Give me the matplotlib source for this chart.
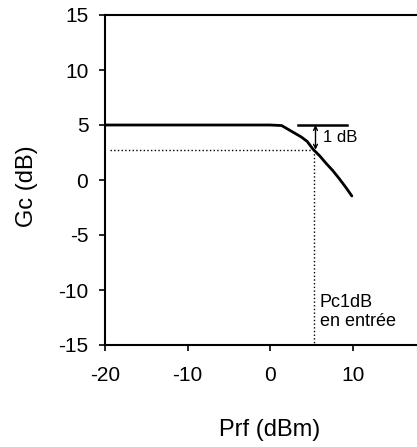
import matplotlib
import numpy as np
from matplotlib import pyplot as plt

plt.rcParams['font.family'] = ['Liberation Sans', 'DejaVu Sans']
plt.rcParams['axes.unicode_minus'] = False

# gain curve
prf = [-20, -10, 0, 1.4, 2.2, 3.0, 3.8, 4.5, 5.2, 6.0, 6.8, 7.6, 8.4, 9.2, 9.9]
gc = [5.0, 5.0, 5.0, 4.95, 4.6, 4.25, 3.9, 3.5, 2.8, 2.2, 1.5, 0.85, 0.1, -0.7, -1.45]

# 5 dB reference segment and compression point
ref_x = [3.4, 9.3]
ref_y = [5.0, 5.0]
pc1db_x = 5.3
pc1db_y = 2.75

xticks = [-20, -10, 0, 10]
yticks = [-15, -10, -5, 0, 5, 10, 15]

fig = plt.figure(figsize=(4.17, 4.47), dpi=100)
ax = fig.add_axes([105 / 417, 102 / 447, 330.2 / 417, 330 / 447])

ax.plot(prf, gc, color='black', linewidth=2.0, solid_capstyle='round', solid_joinstyle='round')
ax.plot(ref_x, ref_y, color='black', linewidth=1.8)
ax.plot([-19.4, pc1db_x], [pc1db_y, pc1db_y], color='black', linewidth=1.0, linestyle=':')
ax.plot([pc1db_x, pc1db_x], [pc1db_y, -15], color='black', linewidth=1.0, linestyle=':')
ax.annotate('', xy=(5.5, pc1db_y), xytext=(5.5, 5.0),
            arrowprops=dict(arrowstyle='<->', color='black', lw=1.0,
                            shrinkA=0, shrinkB=0, mutation_scale=7))

ax.text(6.4, 3.85, '1 dB', fontsize=12, va='center', ha='left')
ax.text(6.0, -10.4, 'Pc1dB\nen entrée', fontsize=13, va='top', ha='left', linespacing=1.1)

ax.set_xlim(-20, 20)
ax.set_ylim(-15, 15)
ax.set_xticks(xticks)
ax.set_yticks(yticks)
ax.tick_params(direction='out', length=4, width=1.2, labelsize=15)
ax.tick_params(axis='x', pad=11)
ax.tick_params(axis='y', pad=8)
for side in ['left', 'bottom', 'top']:
    ax.spines[side].set_linewidth(1.5)
ax.spines['right'].set_visible(False)

ax.set_xlabel('Prf (dBm)', fontsize=17, va='center')
ax.xaxis.set_label_coords(0.5, -0.258)
ax.set_ylabel('Gc (dB)', fontsize=17, va='center')
ax.yaxis.set_label_coords(-0.236, 0.48)

plt.savefig('out.png', dpi=100)
